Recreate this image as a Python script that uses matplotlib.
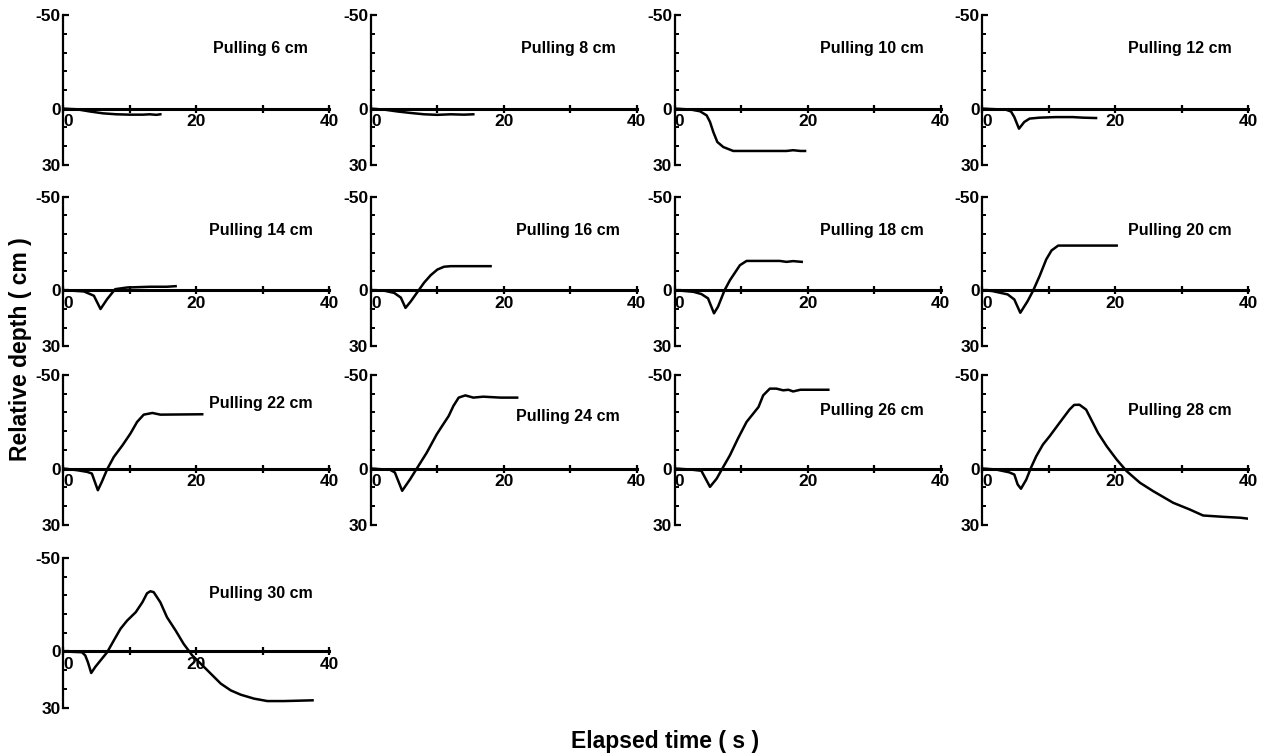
import matplotlib.pyplot as plt
from matplotlib.ticker import MultipleLocator

plt.rcParams['font.family'] = ['Liberation Sans', 'DejaVu Sans']
plt.rcParams['font.weight'] = 'bold'

# pulling distance of each panel (cm)
pulls = [6, 8, 10, 12, 14, 16, 18, 20, 22, 24, 26, 28, 30]

# elapsed time (s) and relative depth (cm)
t06 = [0, 2, 4, 6, 8, 10, 12, 13, 14, 14.6]
d06 = [0, 0.3, 1.5, 2.5, 3.0, 3.2, 3.2, 3.0, 3.3, 3.0]
t08 = [0, 2, 4, 6, 8, 10, 12, 14, 15.4]
d08 = [0, 0.5, 1.5, 2.3, 3.0, 3.3, 3.0, 3.2, 3.0]
t10 = [0, 2.3, 3.8, 4.8, 5.3, 5.8, 6.4, 7.3, 8.8, 13.3, 16.8, 17.8, 18.9, 19.6]
d10 = [0, 0.4, 1.4, 3.6, 7.1, 12.5, 17.8, 20.5, 22.6, 22.6, 22.6, 22.2, 22.6, 22.6]
t12 = [0, 3.5, 4.3, 4.8, 5.5, 6.3, 7.1, 8.6, 11.1, 13.6, 15.1, 17.1]
d12 = [0, 0.5, 1.5, 4.5, 10.7, 7.1, 5.3, 4.8, 4.5, 4.5, 4.8, 5.0]
t14 = [0, 3.1, 4.6, 5.6, 6.6, 7.8, 9.6, 13.1, 15.6, 16.9]
d14 = [0, 0.7, 3.0, 10.1, 4.8, -0.5, -1.4, -1.8, -1.8, -2.1]
t16 = [0, 2, 3.5, 4.5, 5.2, 6, 7, 8, 9, 10, 11, 12, 18]
d16 = [0, 0.3, 1.5, 4.0, 9.5, 6.0, 1.0, -4.0, -8.0, -11.0, -12.5, -12.8, -12.8]
t18 = [0, 2.8, 4.0, 5.0, 5.9, 6.5, 7.5, 8.3, 9.8, 10.8, 13.3, 15.8, 16.8, 17.8, 19.1]
d18 = [0, 0.9, 2.1, 4.4, 12.4, 8.9, 0, -5.3, -13.3, -15.6, -15.6, -15.6, -15.1, -15.5, -15.1]
t20 = [0, 1.5, 3.8, 4.8, 5.7, 6.8, 7.6, 8.6, 9.6, 10.4, 11.4, 20.2]
d20 = [0, 0.5, 2.3, 5.0, 12.1, 5.9, 0.5, -7.5, -16.4, -21.2, -23.8, -23.8]
t22 = [0, 2.1, 3.6, 4.3, 5.2, 5.8, 6.6, 7.6, 8.9, 10.1, 11.1, 12.1, 13.4, 14.6, 20.9]
d22 = [0, 0.9, 1.8, 2.7, 11.6, 7.1, 0.4, -6.2, -12.4, -18.7, -24.9, -28.8, -29.7, -28.8, -29.0]
t24 = [0, 2.9, 3.6, 4.7, 5.9, 6.9, 8.4, 9.9, 10.7, 11.7, 12.4, 13.2, 14.2, 15.4, 16.9, 19.5, 22.0]
d24 = [0, 0.7, 2.1, 11.9, 5.7, 0, -8.5, -18.3, -22.7, -28.1, -33.4, -37.9, -39.1, -37.9, -38.4, -37.9, -37.9]
t26 = [0, 2.3, 4.0, 4.5, 5.3, 6.3, 7.3, 8.3, 9.5, 10.8, 12.6, 13.3, 14.3, 15.3, 16.3, 17.1, 17.8, 18.9, 23.1]
d26 = [0, 0.5, 1.2, 4.5, 9.8, 5.4, -0.9, -7.1, -16.0, -24.9, -32.9, -39.1, -42.7, -42.7, -41.8, -42.1, -41.2, -42.1, -42.1]
t28 = [0, 2.0, 4.0, 4.8, 5.3, 5.8, 6.6, 7.3, 8.1, 9.1, 10.1, 11.6, 13.1, 13.8, 14.6, 15.6, 17.4,
       18.7, 20.2, 21.7, 23.7, 25.7, 28.7, 31.2, 33.2, 36.2, 38.8, 40.0]
d28 = [0, 0.5, 2.0, 3.2, 8.5, 10.8, 5.9, -0.4, -6.6, -12.8, -17.2, -24.4, -31.5, -34.0, -34.1, -31.5, -19.0,
       -11.9, -4.8, 1.4, 7.6, 12.1, 18.3, 21.9, 25.1, 25.8, 26.3, 26.8]
t30 = [0, 2.8, 3.3, 3.7, 4.2, 4.8, 5.8, 6.6, 7.6, 8.6, 9.6, 10.9, 11.9, 12.6, 13.1, 13.6, 14.6, 15.6,
       16.9, 18.1, 19.4, 20.7, 22.2, 23.7, 25.2, 26.7, 28.7, 30.7, 33.2, 37.5]
d30 = [0, 0.4, 2.1, 5.7, 11.5, 8.3, 3.9, 0.4, -5.9, -12.1, -16.5, -21.0, -26.3, -31.1, -32.2, -31.7, -26.3, -18.3,
       -11.2, -4.1, 2.1, 6.6, 11.9, 17.2, 20.8, 23.1, 25.2, 26.5, 26.5, 26.1]

times = [t06, t08, t10, t12, t14, t16, t18, t20, t22, t24, t26, t28, t30]
depths = [d06, d08, d10, d12, d14, d16, d18, d20, d22, d24, d26, d28, d30]

# vertical placement of the panel labels (data units)
label_y = [-32, -32, -32, -32, -32, -32, -32, -32, -35, -27.6, -31, -31, -31]

fig = plt.figure(figsize=(12.66, 7.56), dpi=100)
col_left = [0.050, 0.293, 0.533, 0.776]
row_bottom = [0.782, 0.542, 0.306, 0.064]
w, h = 0.210, 0.198

for i, pull in enumerate(pulls):
    r, c = divmod(i, 4)
    ax = fig.add_axes([col_left[c], row_bottom[r], w, h])
    ax.plot(times[i], depths[i], color='black', lw=1.8)
    ax.set_xlim(0, 40)
    ax.set_ylim(30, -50)
    ax.spines['top'].set_visible(False)
    ax.spines['right'].set_visible(False)
    ax.spines['bottom'].set_position(('data', 0))
    ax.spines['bottom'].set_linewidth(2.2)
    ax.spines['left'].set_linewidth(1.6)

    ax.set_xticks([0, 10, 20, 30, 40])
    ax.set_xticklabels(['0', '', '20', '', '40'])
    ax.set_yticks([-50, 0, 30])
    ax.set_yticklabels(['-50', '0', '30'])
    ax.yaxis.set_minor_locator(MultipleLocator(10))
    ax.tick_params(axis='x', direction='inout', length=6, width=1.6, pad=1, labelsize=12.5)
    ax.tick_params(axis='y', which='major', direction='in', length=4, width=1.6, pad=2, labelsize=12.5)
    ax.tick_params(axis='y', which='minor', direction='in', length=3, width=1.4)
    ax.get_xticklabels()[0].set_horizontalalignment('left')

    ax.text(29.7, label_y[i], f'Pulling {pull} cm', ha='center', va='center',
            fontsize=11.5, fontweight='bold')

fig.text(0.016, 0.538, 'Relative depth ( cm )', rotation=90, ha='center', va='center',
         fontsize=16.5, fontweight='bold')
fig.text(0.525, 0.019, 'Elapsed time ( s )', ha='center', va='center',
         fontsize=16.5, fontweight='bold')

fig.savefig('out.png', dpi=100)
